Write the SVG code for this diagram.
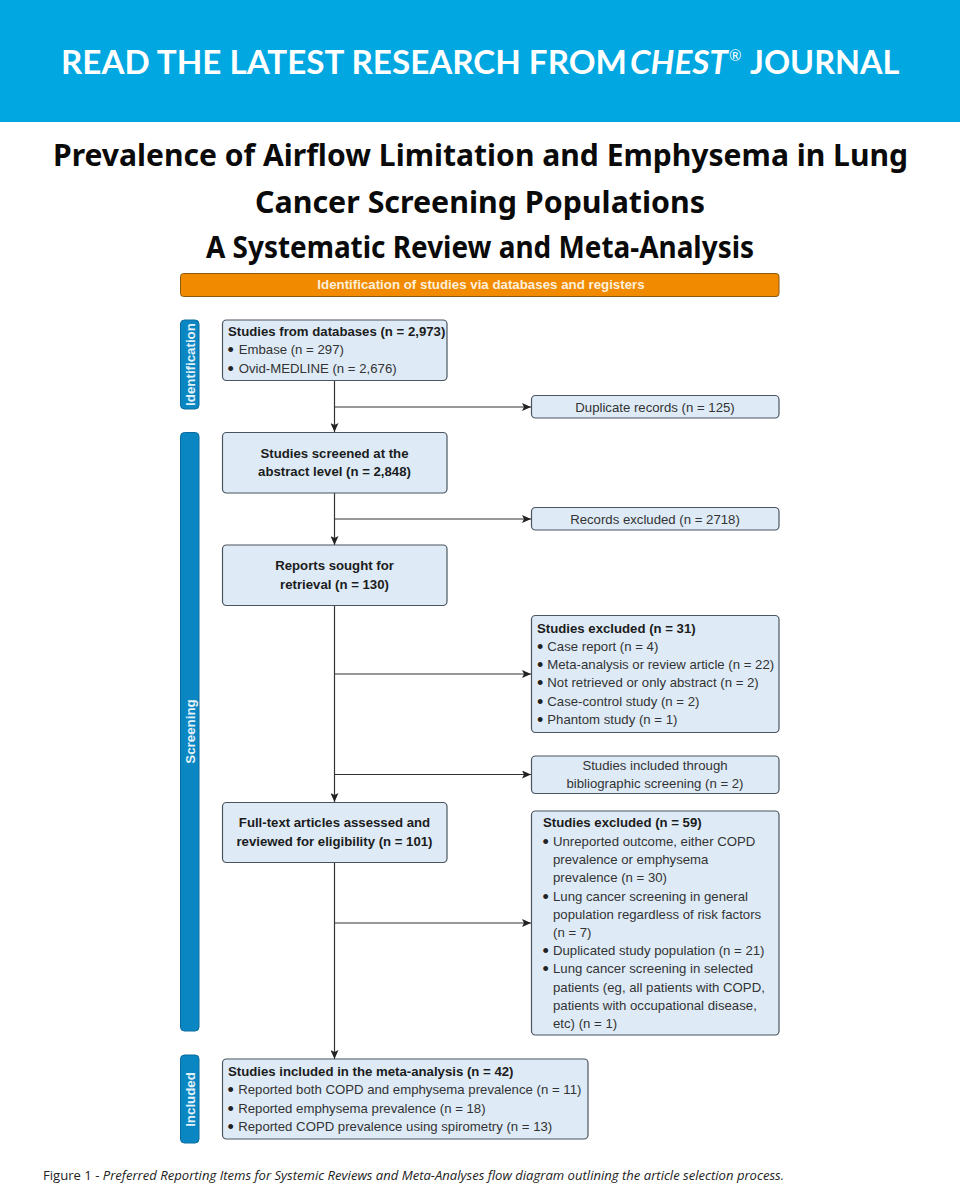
<svg xmlns="http://www.w3.org/2000/svg" width="960" height="1200" viewBox="0 0 960 1200">
<style>
.h{font-family:"Lato","Open Sans",sans-serif;font-size:33.2px;fill:#fff;font-weight:700}
.r{font-family:"Lato","Open Sans",sans-serif;font-size:15px;fill:#fff;font-weight:400}
.t{font-family:"Noto Sans","Liberation Sans",sans-serif;font-size:31px;font-weight:700;fill:#0a0a0a;text-anchor:middle}
.box{fill:#deebf7;stroke:#4a5560;stroke-width:1.2}
.side{fill:#0a87c2;stroke:#0a6c9e;stroke-width:1}
.b,.n{font-family:"Liberation Sans",Arial,sans-serif;font-size:13.2px;fill:#333}
.b{font-weight:700;fill:#1c1c1c}
.c{text-anchor:middle}
.d{font-size:18px;fill:#222}
.s{font-family:"Liberation Sans",Arial,sans-serif;font-size:13.3px;font-weight:700;fill:#e4f2fa;text-anchor:middle}
.l{fill:none;stroke:#333;stroke-width:1.2}
</style>
<defs><marker id="a" markerWidth="10" markerHeight="8" refX="9" refY="4" orient="auto" markerUnits="userSpaceOnUse"><path d="M0 0L9 4L0 8L2 4Z" fill="#222"/></marker></defs>
<rect width="960" height="122" fill="#00a7e1"/>
<text class="h" x="61" y="74">READ THE LATEST RESEARCH FROM</text>
<text class="h" x="630" y="74" font-style="italic">CHEST</text>
<text class="r" x="729" y="61">®</text>
<text class="h" x="750" y="74" style="font-size:32.4px">JOURNAL</text>
<text class="t" x="480.500" y="166" textLength="855" lengthAdjust="spacingAndGlyphs">Prevalence of Airflow Limitation and Emphysema in Lung</text>
<text class="t" x="480" y="213" textLength="450" lengthAdjust="spacingAndGlyphs">Cancer Screening Populations</text>
<text class="t" x="480" y="258" textLength="548" lengthAdjust="spacingAndGlyphs">A Systematic Review and Meta-Analysis</text>
<g id="banner"><rect x="180.500" y="273.500" width="598.500" height="23" rx="3" fill="#f28a00" stroke="#8a5a10" stroke-width="1"/><text class="s" x="481" y="289" style="fill:#fdf0dc">Identification of studies via databases and registers</text></g>
<g id="connectors">
<path class="l" d="M334.500 380.500V432" marker-end="url(#a)"/>
<path class="l" d="M334.500 407H531" marker-end="url(#a)"/>
<path class="l" d="M334.500 493V545" marker-end="url(#a)"/>
<path class="l" d="M334.500 519H531" marker-end="url(#a)"/>
<path class="l" d="M334.500 605V802" marker-end="url(#a)"/>
<path class="l" d="M334.500 674H531" marker-end="url(#a)"/>
<path class="l" d="M334.500 774.500H531" marker-end="url(#a)"/>
<path class="l" d="M334.500 862V1059" marker-end="url(#a)"/>
<path class="l" d="M334.500 923H531" marker-end="url(#a)"/>
</g>
<g id="side-identification"><rect class="side" x="180.500" y="320" width="18.500" height="89" rx="4"/><text class="s" transform="translate(194.500 364.500) rotate(-90)">Identification</text></g>
<g id="side-screening"><rect class="side" x="180.500" y="432.500" width="18.500" height="598.500" rx="4"/><text class="s" transform="translate(194.500 731.500) rotate(-90)">Screening</text></g>
<g id="side-included"><rect class="side" x="180.500" y="1055" width="18.500" height="88" rx="4"/><text class="s" transform="translate(194.500 1099.500) rotate(-90)">Included</text></g>
<g id="n-databases"><rect class="box" x="222.500" y="320" width="224.500" height="60.500" rx="4"/><text class="b" x="228" y="336">Studies from databases (n = 2,973)</text><text class="n" x="227.500" y="354"><tspan class="d" dy="2.200">•</tspan><tspan x="238.700" dy="-2.200">Embase (n = 297)</tspan></text><text class="n" x="227.500" y="372.500"><tspan class="d" dy="2.200">•</tspan><tspan x="238.700" dy="-2.200">Ovid-MEDLINE (n = 2,676)</tspan></text></g>
<g id="n-duplicates"><rect class="box" x="531.500" y="395.500" width="247.500" height="22.500" rx="4"/><text class="n c" x="655" y="411.500">Duplicate records (n = 125)</text></g>
<g id="n-screened"><rect class="box" x="222.500" y="432.500" width="224.500" height="60.500" rx="4"/><text class="b c" x="334.500" y="458">Studies screened at the</text><text class="b c" x="334.500" y="476">abstract level (n = 2,848)</text></g>
<g id="n-records"><rect class="box" x="531.500" y="507.500" width="247.500" height="22.500" rx="4"/><text class="n c" x="655" y="523.500">Records excluded (n = 2718)</text></g>
<g id="n-sought"><rect class="box" x="222.500" y="545" width="224.500" height="60.500" rx="4"/><text class="b c" x="334.500" y="570">Reports sought for</text><text class="b c" x="334.500" y="588.500">retrieval (n = 130)</text></g>
<g id="n-excluded31"><rect class="box" x="531.500" y="615.500" width="247.500" height="117" rx="4"/><text class="b" x="537" y="633">Studies excluded (n = 31)</text><text class="n" x="537" y="651"><tspan class="d" dy="2.200">•</tspan><tspan x="547.300" dy="-2.200">Case report (n = 4)</tspan></text><text class="n" x="537" y="669"><tspan class="d" dy="2.200">•</tspan><tspan x="547.300" dy="-2.200">Meta-analysis or review article (n = 22)</tspan></text><text class="n" x="537" y="687"><tspan class="d" dy="2.200">•</tspan><tspan x="547.300" dy="-2.200">Not retrieved or only abstract (n = 2)</tspan></text><text class="n" x="537" y="705.500"><tspan class="d" dy="2.200">•</tspan><tspan x="547.300" dy="-2.200">Case-control study (n = 2)</tspan></text><text class="n" x="537" y="723.500"><tspan class="d" dy="2.200">•</tspan><tspan x="547.300" dy="-2.200">Phantom study (n = 1)</tspan></text></g>
<g id="n-bibliographic"><rect class="box" x="531.500" y="756" width="247.500" height="37.500" rx="4"/><text class="n c" x="655" y="770">Studies included through</text><text class="n c" x="655" y="788">bibliographic screening (n = 2)</text></g>
<g id="n-fulltext"><rect class="box" x="222.500" y="802.500" width="224.500" height="60" rx="4"/><text class="b c" x="334.500" y="827">Full-text articles assessed and</text><text class="b c" x="334.500" y="846">reviewed for eligibility (n = 101)</text></g>
<g id="n-excluded59"><rect class="box" x="531.500" y="811" width="247.500" height="224" rx="4"/><text class="b" x="543" y="827">Studies excluded (n = 59)</text><text class="n" x="542.500" y="846"><tspan class="d" dy="2.200">•</tspan><tspan x="553" dy="-2.200">Unreported outcome, either COPD</tspan></text><text class="n" x="553" y="864">prevalence or emphysema</text><text class="n" x="553" y="882">prevalence (n = 30)</text><text class="n" x="542.500" y="900.500"><tspan class="d" dy="2.200">•</tspan><tspan x="553" dy="-2.200">Lung cancer screening in general</tspan></text><text class="n" x="553" y="918.500">population regardless of risk factors</text><text class="n" x="553" y="937">(n = 7)</text><text class="n" x="542.500" y="955"><tspan class="d" dy="2.200">•</tspan><tspan x="553" dy="-2.200">Duplicated study population (n = 21)</tspan></text><text class="n" x="542.500" y="973"><tspan class="d" dy="2.200">•</tspan><tspan x="553" dy="-2.200">Lung cancer screening in selected</tspan></text><text class="n" x="553" y="991.500">patients (eg, all patients with COPD,</text><text class="n" x="553" y="1009.500">patients with occupational disease,</text><text class="n" x="553" y="1028">etc) (n = 1)</text></g>
<g id="n-included"><rect class="box" x="222.500" y="1059" width="365.500" height="80" rx="4"/><text class="b" x="228" y="1076">Studies included in the meta-analysis (n = 42)</text><text class="n" x="227.500" y="1094"><tspan class="d" dy="2.200">•</tspan><tspan x="238.200" dy="-2.200">Reported both COPD and emphysema prevalence (n = 11)</tspan></text><text class="n" x="227.500" y="1112.500"><tspan class="d" dy="2.200">•</tspan><tspan x="238.200" dy="-2.200">Reported emphysema prevalence (n = 18)</tspan></text><text class="n" x="227.500" y="1130.500"><tspan class="d" dy="2.200">•</tspan><tspan x="238.200" dy="-2.200">Reported COPD prevalence using spirometry (n = 13)</tspan></text></g>
<text x="43" y="1180" font-family="Open Sans,sans-serif" font-size="12" fill="#222" textLength="741" lengthAdjust="spacingAndGlyphs">Figure 1 - <tspan font-style="italic">Preferred Reporting Items for Systemic Reviews and Meta-Analyses flow diagram outlining the article selection process.</tspan></text>
</svg>
